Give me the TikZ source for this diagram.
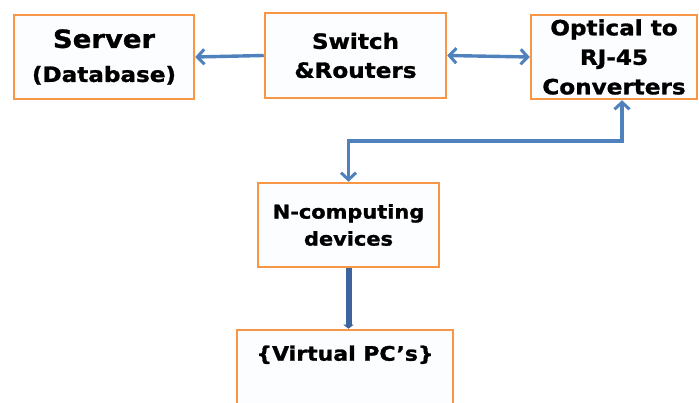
\documentclass[tikz,border=0pt]{standalone}
\usepackage{fontspec}
\setmainfont{DejaVu Sans}
\newfontfamily\widesans[FakeStretch=1.1,FakeBold=1.3]{DejaVu Sans}
\usetikzlibrary{arrows.meta}
\definecolor{boxline}{HTML}{F79646}
\definecolor{boxfill}{HTML}{FCFDFF}
\definecolor{link}{HTML}{4F81BD}
\definecolor{linkdark}{HTML}{3D649C}
\newcommand{\fs}[2]{\fontsize{#1}{#2}\selectfont}
\tikzset{
  block/.style={draw=boxline, line width=2.5pt, fill=boxfill, rectangle,
    align=center, inner sep=0pt, font=\widesans\bfseries},
  barb/.tip={Straight Barb[length=7pt,width=15pt,line width=3pt]},
  wire/.style={draw=link, line width=3.4pt, arrows={-barb}},
  wire2/.style={draw=link, line width=3.4pt, arrows={barb-barb}},
  thick wire/.style={draw=linkdark, line width=6pt,
    arrows={-Triangle[length=4pt,width=10pt]}},
}
\begin{document}
\begin{tikzpicture}[x=1pt,y=-1pt]
\useasboundingbox (0,0) rectangle (699,403);
\clip (0,0) rectangle (699,403);

% top row
\node[block, minimum width=180pt, minimum height=84pt,
  font=\widesans\bfseries\fs{21}{34}] (server) at (104,57)
  {\fs{25}{34}Server\\\fs{21}{34}(Database)};
\node[block, minimum width=181pt, minimum height=85pt,
  font=\widesans\bfseries\fs{21}{29}] (switch) at (355.5,55.5)
  {Switch\\\&Routers};
\node[block, minimum width=166pt, minimum height=84pt,
  font=\widesans\bfseries\fs{21}{29.5}] (optical) at (614,57)
  {Optical to\\RJ-45\\Converters};

% middle and bottom
\node[block, minimum width=181pt, minimum height=84pt,
  font=\widesans\bfseries\fs{19}{27}] (ncomp) at (348.5,225)
  {N-computing\\devices};
\node[block, minimum width=216pt, minimum height=90pt] (virt) at (345,375) {};
\node[font=\widesans\bfseries\fs{20}{24}, anchor=center] (virttext)
  at ([yshift=-26pt]virt.north) {\{Virtual PC’s\}};

% connectors
\draw[wire] (switch.west) -- (server.east);
\draw[wire2] (switch.east) -- (optical.west);
\coordinate (optin) at ([xshift=8pt]optical.south);
\coordinate (bendA) at (ncomp.north |- 0,141);
\coordinate (bendB) at (optin |- 0,141);
\draw[wire2] (optin) -- (bendB) -- (bendA) -- (ncomp.north);
\draw[thick wire] (ncomp.south) -- (ncomp.south |- virt.north);
\end{tikzpicture}
\end{document}
